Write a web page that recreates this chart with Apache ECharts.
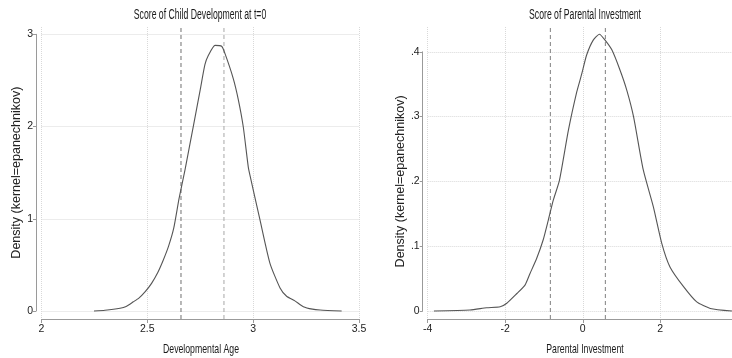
<!DOCTYPE html>
<html>
<head>
<meta charset="utf-8">
<script src="https://cdn.jsdelivr.net/npm/echarts@6/dist/echarts.min.js"></script>
<style>
html,body{margin:0;padding:0;background:#fff;}
#c{width:732px;height:358px;}
</style>
</head>
<body>
<div id="c"></div>
<script>
// ---- Data ----
const titles = ["Score of Child Development at t=0", "Score of Parental Investment"];
const xNames = ["Developmental Age", "Parental Investment"];
const yName = "Density (kernel=epanechnikov)";

const childX = [2.248, 2.30, 2.371, 2.40, 2.434, 2.46, 2.49, 2.52, 2.55, 2.575, 2.60, 2.625, 2.65, 2.678, 2.717, 2.75, 2.772, 2.788, 2.820, 2.851, 2.867, 2.906, 2.930, 2.953, 2.977, 2.985, 3.032, 3.079, 3.127, 3.158, 3.197, 3.237, 3.28, 3.316, 3.418];
const childD = [0, 0.008, 0.03, 0.05, 0.10, 0.14, 0.21, 0.30, 0.42, 0.55, 0.70, 0.90, 1.22, 1.53, 2.00, 2.40, 2.67, 2.77, 2.88, 2.87, 2.79, 2.52, 2.29, 2.00, 1.56, 1.47, 0.99, 0.52, 0.25, 0.16, 0.11, 0.047, 0.02, 0.011, 0];
const childRefLines = [2.659, 2.862];
const childXTicks = [2, 2.5, 3, 3.5];
const childYTicks = [0, 1, 2, 3];

const invX = [-3.84, -2.91, -2.48, -2.13, -1.96, -1.70, -1.49, -1.36, -1.19, -1.02, -0.89, -0.76, -0.60, -0.37, -0.155, -0.03, 0.10, 0.27, 0.43, 0.575, 0.75, 0.96, 1.135, 1.31, 1.56, 1.82, 2.04, 2.25, 2.60, 2.94, 3.29, 3.85];
const invD = [0, 0.0015, 0.005, 0.0066, 0.012, 0.027, 0.040, 0.058, 0.081, 0.110, 0.140, 0.171, 0.202, 0.279, 0.338, 0.365, 0.395, 0.418, 0.427, 0.418, 0.403, 0.372, 0.341, 0.300, 0.218, 0.161, 0.104, 0.068, 0.0375, 0.014, 0.004, 0];
const invRefLines = [-0.836, 0.583];
const invXTicks = [-4, -2, 0, 2];
const invYTicks = [0, 0.1, 0.2, 0.3, 0.4];
const invYLabels = ["0", ".1", ".2", ".3", ".4"];

// ---- Styles ----
const SANS = "'Liberation Sans',Arial,sans-serif";
const axisGray = '#9a9a9a';
const gridColor = '#d9d9d9';
const curveColor = '#555555';
const dashColors = [['#707070', '#a8a8a8'], ['#808080', '#808080']];

function pairs(xs, ys){ return xs.map((x,i)=>[x, ys[i]]); }

const chart = echarts.init(document.getElementById('c'), null, {renderer:'canvas'});

const panels = [
  {outer:{left:41.5, width:317.5, top:27, height:292}, inner:{left:41.5, width:317.5, top:34.3, height:276.7},
   xmin:2, xmax:3.5, xint:0.5, ymax:3, yint:1, yoff:5.5, ygap:12, cx:200, xfmt: v=>String(v), yfmt: v=>String(v)},
  {outer:{left:427.7, width:304.3, top:27, height:292}, inner:{left:427.7, width:304.3, top:51.8, height:259.2},
   xmin:-4, xmax:3.85, xint:2, ymax:0.4, yint:0.1, yoff:5, ygap:15, cx:585, xfmt: v=>String(v),
   yfmt: v=>{ const i = invYTicks.findIndex(t=>Math.abs(t-v)<1e-9); return i>=0 ? invYLabels[i] : ''; }}
];

const grids = [], xAxes = [], yAxes = [], series = [], graphics = [];
panels.forEach((p, k) => {
  const gOuter = grids.length; grids.push(Object.assign({containLabel:false}, p.outer));
  const gInner = grids.length; grids.push(Object.assign({containLabel:false}, p.inner));
  // outer: visible x axis + vertical grid lines
  xAxes.push({gridIndex:gOuter, type:'value', min:p.xmin, max:p.xmax, interval:p.xint,
    axisLine:{show:true, onZero:false, lineStyle:{color:axisGray, width:1}},
    axisTick:{show:true, length:4, inside:false, lineStyle:{color:axisGray}},
    axisLabel:{show:true, margin:5, fontFamily:SANS, fontSize:10.5, color:'#222', formatter:p.xfmt, showMaxLabel: k===0},
    splitLine:{show:true, lineStyle:{type:'dotted', color:gridColor, width:1}}});
  yAxes.push({gridIndex:gOuter, type:'value', min:0, max:1, show:false, axisLine:{onZero:false}, splitLine:{show:false}});
  // inner: visible y axis + horizontal grid lines, data
  xAxes.push({gridIndex:gInner, type:'value', min:p.xmin, max:p.xmax, show:false, axisLine:{onZero:false}, splitLine:{show:false}});
  yAxes.push({gridIndex:gInner, type:'value', min:0, max:p.ymax, interval:p.yint, offset:p.yoff,
    name:yName, nameLocation:'middle', nameGap:p.ygap, nameRotate:90,
    nameTextStyle:{fontFamily:SANS, fontSize:12.5, color:'#222'},
    axisLine:{show:true, onZero:false, lineStyle:{color:axisGray, width:1}},
    axisTick:{show:true, length:3, lineStyle:{color:axisGray}},
    axisLabel:{show:true, margin:3, fontFamily:SANS, fontSize:10.5, color:'#222', formatter:p.yfmt},
    splitLine:{show:true, lineStyle:{type:'dotted', color:gridColor, width:1}}});
  const xIdxOuter = xAxes.length-2, yIdxOuter = yAxes.length-2;
  const xIdxInner = xAxes.length-1, yIdxInner = yAxes.length-1;
  const refs = k===0 ? childRefLines : invRefLines;
  refs.forEach((r, j) => {
    series.push({type:'line', xAxisIndex:xIdxOuter, yAxisIndex:yIdxOuter, data:[[r,0],[r,1]],
      symbol:'none', silent:true, lineStyle:{color:dashColors[k][j], width:1, type:[4,3]}, z:2});
  });
  series.push({type:'line', xAxisIndex:xIdxInner, yAxisIndex:yIdxInner,
    data: k===0 ? pairs(childX, childD) : pairs(invX, invD),
    symbol:'none', smooth:0.2, clip:false, silent:true,
    lineStyle:{color:curveColor, width:1.1}, z:3});
  // titles and x-axis titles (condensed like the original)
  graphics.push({type:'text', x:p.cx, y:15, scaleX:0.62, scaleY:1, silent:true,
    style:{text:titles[k], fontSize:14, fontFamily:'Liberation Sans', fill:'#1a1a1a', textAlign:'center', textVerticalAlign:'middle'}});
  graphics.push({type:'text', x: k===0 ? 201 : 585, y:349, scaleX:0.67, scaleY:1, silent:true,
    style:{text:xNames[k], fontSize:13, fontFamily:'Liberation Sans', fill:'#1a1a1a', textAlign:'center', textVerticalAlign:'middle'}});
});

chart.setOption({
  animation:false,
  backgroundColor:'#ffffff',
  grid:grids, xAxis:xAxes, yAxis:yAxes, series:series, graphic:graphics
});
</script>
</body>
</html>
